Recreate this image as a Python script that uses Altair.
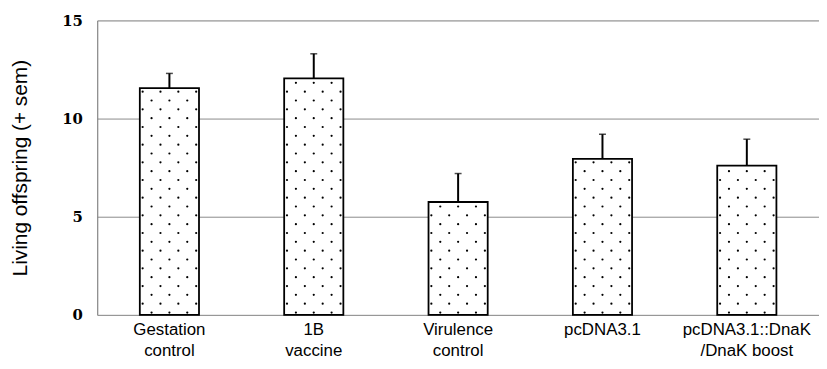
import altair as alt
import pandas as pd

categories = ["Gestation\ncontrol", "1B\nvaccine", "Virulence\ncontrol", "pcDNA3.1", "pcDNA3.1::DnaK\n/DnaK boost"]
means = [11.55, 12.05, 5.75, 7.95, 7.6]
upper = [12.3, 13.3, 7.2, 9.2, 8.95]
y_ticks = [0, 5, 10, 15]

W = 728
H = 297
step = W / len(categories)

df = pd.DataFrame({"cat": categories, "mean": means, "upper": upper, "idx": list(range(len(categories)))})

base = alt.Chart(df)
xscale = alt.Scale(paddingInner=0.59, paddingOuter=0.295)
xband = alt.X("cat:N", sort=categories, scale=xscale,
              axis=alt.Axis(title=None, labelExpr="split(datum.label, '\\n')", labelAngle=0,
                            labelFont="Liberation Sans", labelFontSize=17, labelColor="black",
                            labelLineHeight=21, labelPadding=7, ticks=False, domain=False))
xplain = alt.X("cat:N", sort=categories, scale=xscale)
yscale = alt.Scale(domain=[0, 15], nice=False)
yq = alt.Y("mean:Q", scale=yscale,
           axis=alt.Axis(values=y_ticks, title="Living offspring (+ sem)", titleFont="Liberation Sans",
                         titleFontSize=21, titleFontWeight="normal", titleColor="black", titlePadding=31,
                         labelFont="DejaVu Serif", labelFontSize=15, labelFontWeight="bold",
                         labelColor="black", labelPadding=15, ticks=False,
                         grid=True, gridColor="#8a8a8a", gridWidth=1, domainColor="#777", domainWidth=1))

bars = base.mark_bar(fill="white", stroke="black", strokeWidth=1.8).encode(x=xband, y=yq)

stems = base.mark_rule(color="black", strokeWidth=2).encode(
    x=xplain, y=alt.Y("mean:Q", scale=yscale), y2="upper:Q")
caps = base.mark_tick(color="black", thickness=1.5, size=7, orient="horizontal").encode(
    x=xplain, y=alt.Y("upper:Q", scale=yscale))

dots = base.transform_calculate(
    rows="sequence(0, floor((datum.mean - 0.25) / 0.45) + 1)"
).transform_flatten(["rows"], as_=["r"]).transform_calculate(
    yv="datum.r * 0.45 + 0.12",
    cols="datum.r % 2 == 0 ? [-18, 0, 18] : [-27, -9, 9, 27]"
).transform_flatten(["cols"], as_=["c"]).transform_calculate(
    xv=f"datum.idx + 0.5 + datum.c / {step}"
).mark_point(filled=True, shape="circle", size=5, color="black", opacity=1).encode(
    x=alt.X("xv:Q", scale=alt.Scale(domain=[0, len(categories)], nice=False, zero=False), axis=None),
    y=alt.Y("yv:Q", scale=yscale))

chart = alt.layer(alt.layer(bars, stems, caps), dots).resolve_scale(x="independent").properties(
    width=W, height=H, autosize="none",
    padding={"left": 90, "top": 11, "right": 0, "bottom": 45}
).configure_view(stroke=None).configure(background="white")

chart.save("out.html", embed_options={"renderer": "svg", "actions": False})
